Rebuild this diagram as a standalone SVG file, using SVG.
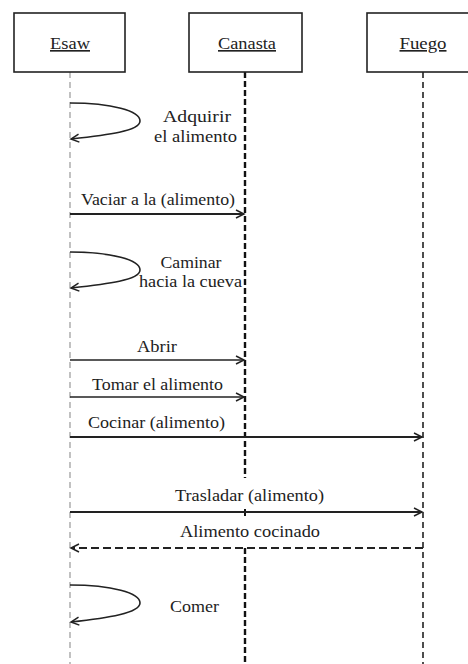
<svg xmlns="http://www.w3.org/2000/svg" width="468" height="664" viewBox="0 0 468 664">
<style>
.t{font-family:"Liberation Serif","Times New Roman","DejaVu Serif",serif;font-size:16.5px;fill:#222}
.box{fill:#fff;stroke:#222;stroke-width:1.6}
.msg{fill:none;stroke:#222}
.ah{fill:none;stroke:#222;stroke-width:1.5}
</style>
<defs>
<marker id="arr" markerWidth="12" markerHeight="12" refX="10" refY="6" orient="auto" markerUnits="userSpaceOnUse">
<path d="M2,2 L10,6 L2,10" class="ah"/>
</marker>
</defs>
<rect width="468" height="664" fill="#fff"/>
<g id="lifelines">
<line x1="70" y1="72" x2="70" y2="664" stroke="#999" stroke-width="1.2" stroke-dasharray="6 4"/>
<line x1="245" y1="72" x2="245" y2="478" stroke="#111" stroke-width="2.4" stroke-dasharray="6 3"/>
<line x1="245" y1="509" x2="245" y2="516" stroke="#111" stroke-width="2"/>
<line x1="245" y1="548" x2="245" y2="664" stroke="#111" stroke-width="2.4" stroke-dasharray="6 3"/>
<line x1="423" y1="72" x2="423" y2="664" stroke="#222" stroke-width="1.6" stroke-dasharray="6 4"/>
</g>
<g id="esaw">
<rect class="box" x="14" y="13" width="111" height="59"/>
<text class="t" x="70" y="49" text-anchor="middle" text-decoration="underline" textLength="40" lengthAdjust="spacingAndGlyphs">Esaw</text>
</g>
<g id="canasta">
<rect class="box" x="189" y="13" width="113" height="59"/>
<text class="t" x="247" y="49" text-anchor="middle" text-decoration="underline" textLength="58" lengthAdjust="spacingAndGlyphs">Canasta</text>
</g>
<g id="fuego">
<rect class="box" x="367" y="13" width="112" height="59"/>
<text class="t" x="423" y="49" text-anchor="middle" text-decoration="underline" textLength="47" lengthAdjust="spacingAndGlyphs">Fuego</text>
</g>
<g id="connectors">
<path class="msg" stroke-width="1.6" d="M70,103 C112,103 140,111 140,121 C140,131 108,135 71,139" marker-end="url(#arr)"/>
<path class="msg" stroke-width="1.6" d="M70,252 C112,252 140,260 140,270 C140,280 108,284 71,288" marker-end="url(#arr)"/>
<path class="msg" stroke-width="1.6" d="M70,585 C112,585 140,593 140,603 C140,613 108,618 71,622" marker-end="url(#arr)"/>
<line class="msg" x1="70" y1="214" x2="244" y2="214" stroke-width="2.2" marker-end="url(#arr)"/>
<line class="msg" x1="70" y1="360" x2="244" y2="360" stroke="#777" stroke-width="1.3" marker-end="url(#arr)"/>
<line class="msg" x1="70" y1="397" x2="244" y2="397" stroke-width="1.4" marker-end="url(#arr)"/>
<line class="msg" x1="70" y1="437" x2="422" y2="437" stroke-width="2.2" marker-end="url(#arr)"/>
<line class="msg" x1="70" y1="512" x2="422" y2="512" stroke-width="1.8" marker-end="url(#arr)"/>
<line class="msg" x1="423" y1="548" x2="71" y2="548" stroke-width="2.2" stroke-dasharray="8 4" marker-end="url(#arr)"/>
</g>
<g id="labels">
<text class="t" x="197" y="122" text-anchor="middle" textLength="68" lengthAdjust="spacingAndGlyphs">Adquirir</text>
<text class="t" x="195.5" y="142" text-anchor="middle" textLength="83" lengthAdjust="spacingAndGlyphs">el alimento</text>
<text class="t" x="158" y="205" text-anchor="middle" textLength="154" lengthAdjust="spacingAndGlyphs">Vaciar a la (alimento)</text>
<text class="t" x="191" y="268" text-anchor="middle" textLength="61" lengthAdjust="spacingAndGlyphs">Caminar</text>
<text class="t" x="190.5" y="287" text-anchor="middle" textLength="103" lengthAdjust="spacingAndGlyphs">hacia la cueva</text>
<text class="t" x="157" y="352" text-anchor="middle" textLength="40" lengthAdjust="spacingAndGlyphs">Abrir</text>
<text class="t" x="157.5" y="390" text-anchor="middle" textLength="131" lengthAdjust="spacingAndGlyphs">Tomar el alimento</text>
<text class="t" x="156.5" y="428" text-anchor="middle" textLength="137" lengthAdjust="spacingAndGlyphs">Cocinar (alimento)</text>
<text class="t" x="249.5" y="501" text-anchor="middle" textLength="149" lengthAdjust="spacingAndGlyphs">Trasladar (alimento)</text>
<text class="t" x="250" y="537" text-anchor="middle" textLength="140" lengthAdjust="spacingAndGlyphs">Alimento cocinado</text>
<text class="t" x="194.5" y="612" text-anchor="middle" textLength="49" lengthAdjust="spacingAndGlyphs">Comer</text>
</g>
</svg>
